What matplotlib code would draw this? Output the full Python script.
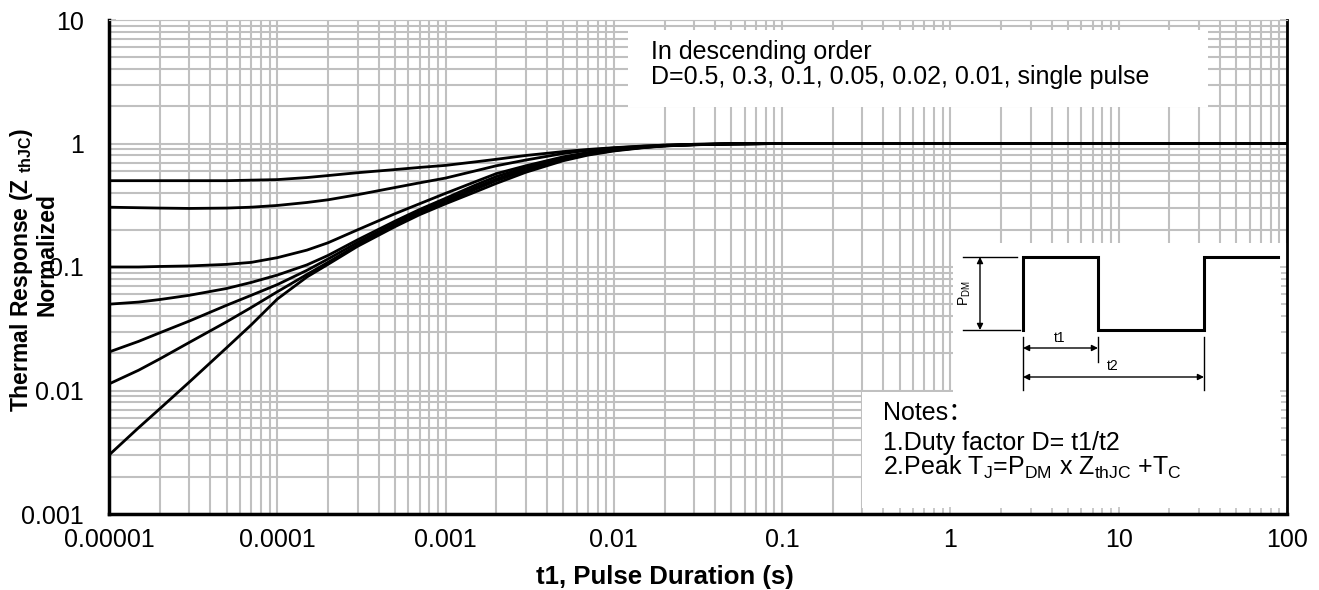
import matplotlib
matplotlib.use("Agg")
import matplotlib.pyplot as plt
from matplotlib.patches import Rectangle
from matplotlib.ticker import LogLocator, NullFormatter

plt.rcParams['font.family'] = ['Liberation Sans', 'DejaVu Sans', 'Noto Sans CJK SC']
plt.rcParams['mathtext.fontset'] = 'custom'
plt.rcParams['mathtext.rm'] = 'Liberation Sans'

# pulse duration (s)
t = [1e-5, 1.5e-5, 2e-5, 3e-5, 5e-5, 7e-5, 1e-4, 1.5e-4, 2e-4, 3e-4, 5e-4, 7e-4,
     1e-3, 1.5e-3, 2e-3, 3e-3, 5e-3, 7e-3, 1e-2, 1.5e-2, 2e-2, 3e-2, 5e-2,
     0.1, 1, 10, 100]

# normalized Zth(jc)
z_d50 = [0.50, 0.50, 0.50, 0.50, 0.50, 0.505, 0.51, 0.53, 0.55, 0.58, 0.615, 0.64,
         0.665, 0.71, 0.745, 0.80, 0.86, 0.895, 0.925, 0.955, 0.97, 0.985, 0.995,
         1.0, 1.0, 1.0, 1.0]
z_d30 = [0.305, 0.302, 0.30, 0.298, 0.30, 0.305, 0.315, 0.333, 0.35, 0.385, 0.44, 0.48,
         0.525, 0.60, 0.66, 0.735, 0.83, 0.88, 0.92, 0.95, 0.97, 0.985, 0.995,
         1.0, 1.0, 1.0, 1.0]
z_d10 = [0.100, 0.100, 0.101, 0.102, 0.105, 0.109, 0.119, 0.137, 0.157, 0.20, 0.27, 0.325,
         0.395, 0.49, 0.57, 0.66, 0.78, 0.845, 0.895, 0.94, 0.962, 0.98, 0.993,
         1.0, 1.0, 1.0, 1.0]
z_d05 = [0.050, 0.052, 0.0545, 0.059, 0.067, 0.075, 0.086, 0.104, 0.124, 0.166, 0.235, 0.292,
         0.36, 0.46, 0.54, 0.64, 0.765, 0.835, 0.89, 0.935, 0.96, 0.98, 0.993,
         1.0, 1.0, 1.0, 1.0]
z_d02 = [0.0205, 0.025, 0.0293, 0.0365, 0.049, 0.059, 0.072, 0.094, 0.116, 0.158, 0.225, 0.282,
         0.345, 0.44, 0.515, 0.62, 0.75, 0.825, 0.883, 0.932, 0.958, 0.978, 0.992,
         1.0, 1.0, 1.0, 1.0]
z_d01 = [0.0113, 0.0146, 0.018, 0.0245, 0.036, 0.047, 0.063, 0.087, 0.109, 0.151, 0.218, 0.275,
         0.335, 0.425, 0.50, 0.605, 0.74, 0.815, 0.878, 0.93, 0.957, 0.977, 0.992,
         1.0, 1.0, 1.0, 1.0]
z_single = [0.0030, 0.0050, 0.0071, 0.0117, 0.0222, 0.034, 0.055, 0.083, 0.105, 0.147, 0.212, 0.265,
            0.325, 0.405, 0.475, 0.585, 0.725, 0.805, 0.87, 0.925, 0.955, 0.976, 0.991,
            1.0, 1.0, 1.0, 1.0]
curves = [z_d50, z_d30, z_d10, z_d05, z_d02, z_d01, z_single]

xticks = [1e-5, 1e-4, 1e-3, 1e-2, 1e-1, 1, 10, 100]
xlabels = ['0.00001', '0.0001', '0.001', '0.01', '0.1', '1', '10', '100']
yticks = [0.001, 0.01, 0.1, 1, 10]
ylabels = ['0.001', '0.01', '0.1', '1', '10']

GRID = '#c0c0c0'
FS = 18

fig = plt.figure(figsize=(13.19, 5.90), dpi=100)
rect = [109 / 1319, 76 / 590, 1178 / 1319, 494 / 590]

# back axes: grid + white boxes
ax0 = fig.add_axes(rect)
ax0.set_xscale('log')
ax0.set_yscale('log')
ax0.set_xlim(1e-5, 100)
ax0.set_ylim(0.001, 10)
ax0.xaxis.set_minor_locator(LogLocator(base=10, subs=range(2, 10), numticks=20))
ax0.yaxis.set_minor_locator(LogLocator(base=10, subs=range(2, 10), numticks=20))
ax0.grid(True, which='both', color=GRID, lw=1.5)
ax0.tick_params(which='both', length=0, labelbottom=False, labelleft=False)
for s in ax0.spines.values():
    s.set_visible(False)
for (x0, y0, w, h) in [(0.441, 0.824, 0.492, 0.156),
                       (0.7165, 0.247, 0.2835, 0.302),
                       (0.639, 0.0, 0.361, 0.247)]:
    ax0.add_patch(Rectangle((x0, y0), w, h, transform=ax0.transAxes,
                            facecolor='white', edgecolor='none', zorder=3))

# front axes: curves, ticks, labels
ax = fig.add_axes(rect, sharex=ax0, sharey=ax0)
ax.patch.set_visible(False)
for z in curves:
    ax.plot(t, z, color='black', lw=2.0, solid_capstyle='butt')
ax.set_xticks(xticks, xlabels)
ax.set_yticks(yticks, ylabels)
ax.xaxis.set_minor_formatter(NullFormatter())
ax.yaxis.set_minor_formatter(NullFormatter())
ax.tick_params(which='both', direction='in', color=GRID, top=True, right=True,
               labelsize=FS)
ax.tick_params(axis='x', which='both', pad=10)
ax.tick_params(axis='y', which='both', pad=18)
ax.tick_params(which='major', length=5, width=1.2)
ax.tick_params(which='minor', length=4, width=1.2)
ax.spines['left'].set_linewidth(2.5)
ax.spines['bottom'].set_linewidth(2.5)
ax.spines['right'].set_linewidth(2.0)
ax.spines['top'].set_color(GRID)

# legend-like note at top
ax.text(0.460, 0.935, 'In descending order', transform=ax.transAxes,
        fontsize=FS, va='center', ha='left')
ax.text(0.460, 0.884, 'D=0.5, 0.3, 0.1, 0.05, 0.02, 0.01, single pulse',
        transform=ax.transAxes, fontsize=FS, va='center', ha='left')

# pulse diagram (axes fraction coordinates)
def fx(px):
    return (px - 109) / 1178

def fy(py):
    return (514 - py) / 494

tr = ax.transAxes
ax.plot([fx(1023), fx(1023), fx(1098), fx(1098), fx(1204), fx(1204), fx(1278)],
        [fy(330), fy(257), fy(257), fy(330), fy(330), fy(257), fy(257)],
        transform=tr, color='black', lw=2.2, solid_joinstyle='miter')
ax.plot([fx(963), fx(1017)], [fy(257), fy(257)], transform=tr, color='black', lw=1)
ax.plot([fx(963), fx(1020)], [fy(330), fy(330)], transform=tr, color='black', lw=1)
for px, py2 in [(1023, 390), (1098, 362), (1204, 390)]:
    ax.plot([fx(px), fx(px)], [fy(337), fy(py2)], transform=tr, color='black', lw=1)
arw = dict(arrowstyle='<|-|>', color='black', lw=1, mutation_scale=9, shrinkA=0, shrinkB=0)
ax.annotate('', xy=(fx(980), fy(257)), xytext=(fx(980), fy(330)),
            xycoords=tr, textcoords=tr, arrowprops=arw)
ax.annotate('', xy=(fx(1023), fy(348)), xytext=(fx(1098), fy(348)),
            xycoords=tr, textcoords=tr, arrowprops=arw)
ax.annotate('', xy=(fx(1023), fy(377)), xytext=(fx(1204), fy(377)),
            xycoords=tr, textcoords=tr, arrowprops=arw)
ax.text(fx(965), fy(293), r'P$_\mathregular{DM}$', transform=tr, rotation=90,
        fontsize=10, ha='center', va='center')
ax.text(fx(1060), fy(338), 't1', transform=tr, fontsize=10, ha='center', va='center')
ax.text(fx(1113), fy(366), 't2', transform=tr, fontsize=10, ha='center', va='center')

# notes
ax.text(fx(883), fy(413), 'Notes：', transform=tr, fontsize=FS, va='center')
ax.text(fx(883), fy(443), '1.Duty factor D= t1/t2', transform=tr, fontsize=FS,
        va='center')
ax.text(fx(883), fy(467),
        r'2.Peak T$_\mathregular{J}$=P$_\mathregular{DM}$ x Z$_\mathregular{thJC}$ +T$_\mathregular{C}$',
        transform=tr, fontsize=FS, va='center')

# axis titles
fig.text(665 / 1319, 1 - 577 / 590, 't1, Pulse Duration (s)', ha='center',
         va='center', fontsize=18.5, fontweight='bold')
fig.text(22 / 1319, 1 - 270 / 590,
         r'Thermal Response (Z $_\mathregular{thJC}$)', rotation=90, ha='center',
         va='center', fontsize=16.5, fontweight='bold')
fig.text(47 / 1319, 1 - 255 / 590, 'Normalized', rotation=90, ha='center',
         va='center', fontsize=16.5, fontweight='bold')

fig.savefig('out.png', dpi=100)
